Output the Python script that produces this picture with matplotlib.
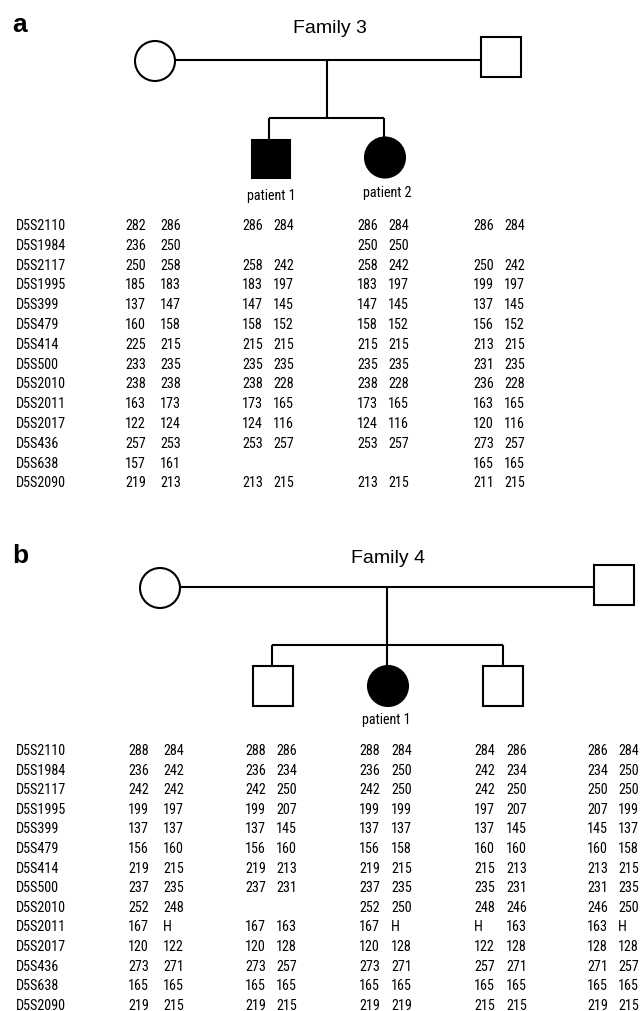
#!/usr/bin/env python3
#------------------------------------------------------------------------------
# Pedigrees of families 3 and 4 with D5S marker haplotypes
#------------------------------------------------------------------------------

import matplotlib
matplotlib.use("Agg")
import matplotlib.pyplot as plt
from matplotlib import font_manager
from matplotlib.patches import Circle, Rectangle

#------------------------------------------------------------------------------
# Data
#------------------------------------------------------------------------------

markers = [
    "D5S2110", "D5S1984", "D5S2117", "D5S1995", "D5S399", "D5S479", "D5S414",
    "D5S500", "D5S2010", "D5S2011", "D5S2017", "D5S436", "D5S638", "D5S2090",
]

# Family 3: mother, patient 1, patient 2, father
fam3_mother = ["282 286", "236 250", "250 258", "185 183", "137 147", "160 158",
               "225 215", "233 235", "238 238", "163 173", "122 124", "257 253",
               "157 161", "219 213"]
fam3_pat1   = ["286 284", "", "258 242", "183 197", "147 145", "158 152",
               "215 215", "235 235", "238 228", "173 165", "124 116", "253 257",
               "", "213 215"]
fam3_pat2   = ["286 284", "250 250", "258 242", "183 197", "147 145", "158 152",
               "215 215", "235 235", "238 228", "173 165", "124 116", "253 257",
               "", "213 215"]
fam3_father = ["286 284", "", "250 242", "199 197", "137 145", "156 152",
               "213 215", "231 235", "236 228", "163 165", "120 116", "273 257",
               "165 165", "211 215"]

# Family 4: mother, son, patient 1, son, father
fam4_mother = ["288 284", "236 242", "242 242", "199 197", "137 137", "156 160",
               "219 215", "237 235", "252 248", "167 H", "120 122", "273 271",
               "165 165", "219 215"]
fam4_son1   = ["288 286", "236 234", "242 250", "199 207", "137 145", "156 160",
               "219 213", "237 231", "", "167 163", "120 128", "273 257",
               "165 165", "219 215"]
fam4_pat1   = ["288 284", "236 250", "242 250", "199 199", "137 137", "156 158",
               "219 215", "237 235", "252 250", "167 H", "120 128", "273 271",
               "165 165", "219 219"]
fam4_son2   = ["284 286", "242 234", "242 250", "197 207", "137 145", "160 160",
               "215 213", "235 231", "248 246", "H 163", "122 128", "257 271",
               "165 165", "215 215"]
fam4_father = ["286 284", "234 250", "250 250", "207 199", "145 137", "160 158",
               "213 215", "231 235", "246 250", "163 H", "128 128", "271 257",
               "165 165", "219 215"]

#------------------------------------------------------------------------------
# Fonts: an Arial-like face for titles, a narrow one for the tables
#------------------------------------------------------------------------------

installed = {f.name for f in font_manager.fontManager.ttflist}

def pick(*names):
    for n in names:
        if n in installed:
            return n
    return "DejaVu Sans"

SANS = pick("Liberation Sans", "Arimo")
NARROW = pick("Liberation Sans Narrow", "Roboto Condensed", "Archivo Narrow",
              "PT Sans Narrow", "Liberation Sans")

FS = 10.2
LW = 1.5

#------------------------------------------------------------------------------
# Canvas in pixel units
#------------------------------------------------------------------------------

W, H = 641, 1012
fig = plt.figure(figsize=(W / 100, H / 100), dpi=100)
ax = fig.add_axes([0, 0, 1, 1])
ax.set_xlim(0, W)
ax.set_ylim(H, 0)
ax.set_aspect("equal")
ax.axis("off")

#------------------------------------------------------------------------------

def female(x, y, filled=False, r=20):
    ax.add_patch(Circle((x, y), r, facecolor="black" if filled else "white",
                        edgecolor="black", lw=LW, zorder=3))

def male(x, y, filled=False, s=40):
    ax.add_patch(Rectangle((x - s / 2, y - s / 2), s, s,
                           facecolor="black" if filled else "white",
                           edgecolor="black", lw=LW, zorder=3))

def line(xs, ys):
    ax.plot(xs, ys, color="black", lw=LW, solid_capstyle="butt", zorder=2)

def table(y0, dy, columns, xpos):
    for i, name in enumerate(markers):
        y = y0 + i * dy + 5
        ax.text(16, y, name, fontsize=FS, family=NARROW, va="baseline")
        for col, (x1, x2) in zip(columns, xpos):
            if not col[i]:
                continue
            a1, a2 = col[i].split()
            ax.text(x1, y, a1, fontsize=FS, family=NARROW, va="baseline")
            ax.text(x2, y, a2, fontsize=FS, family=NARROW, va="baseline")

#------------------------------------------------------------------------------
# a: Family 3
#------------------------------------------------------------------------------

ax.text(12, 32, "a", fontsize=19, fontweight="bold", family=SANS, va="baseline")
ax.text(330, 33, "Family 3", fontsize=14, family=SANS, ha="center", va="baseline")

line([155, 501], [61, 61])
line([327, 327], [61, 119])
line([269, 384], [119, 119])
line([269, 269], [119, 141])
line([384, 384], [119, 139])

female(155, 62)
male(501, 58)
male(271, 159.5, filled=True, s=38)
female(385, 158.5, filled=True)

ax.text(271, 200, "patient 1", fontsize=FS, family=NARROW, ha="center", va="baseline")
ax.text(387, 197, "patient 2", fontsize=FS, family=NARROW, ha="center", va="baseline")

table(225, 19.8, [fam3_mother, fam3_pat1, fam3_pat2, fam3_father],
      [(125, 160), (242, 273), (357, 388), (473, 504)])

#------------------------------------------------------------------------------
# b: Family 4
#------------------------------------------------------------------------------

ax.text(12, 563, "b", fontsize=19, fontweight="bold", family=SANS, va="baseline")
ax.text(388, 563, "Family 4", fontsize=14, family=SANS, ha="center", va="baseline")

line([160, 614], [588, 588])
line([387, 387], [588, 667])
line([272, 503], [646, 646])
line([272, 272], [646, 667])
line([503, 503], [646, 667])

female(160, 589)
male(614, 586)
male(272.5, 687)
female(388, 687, filled=True)
male(503, 687)

ax.text(386, 724, "patient 1", fontsize=FS, family=NARROW, ha="center", va="baseline")

table(750, 19.6, [fam4_mother, fam4_son1, fam4_pat1, fam4_son2, fam4_father],
      [(128, 163), (245, 276), (359, 391), (474, 506), (587, 618)])

#------------------------------------------------------------------------------

fig.savefig("out.png", dpi=100, facecolor="white")
